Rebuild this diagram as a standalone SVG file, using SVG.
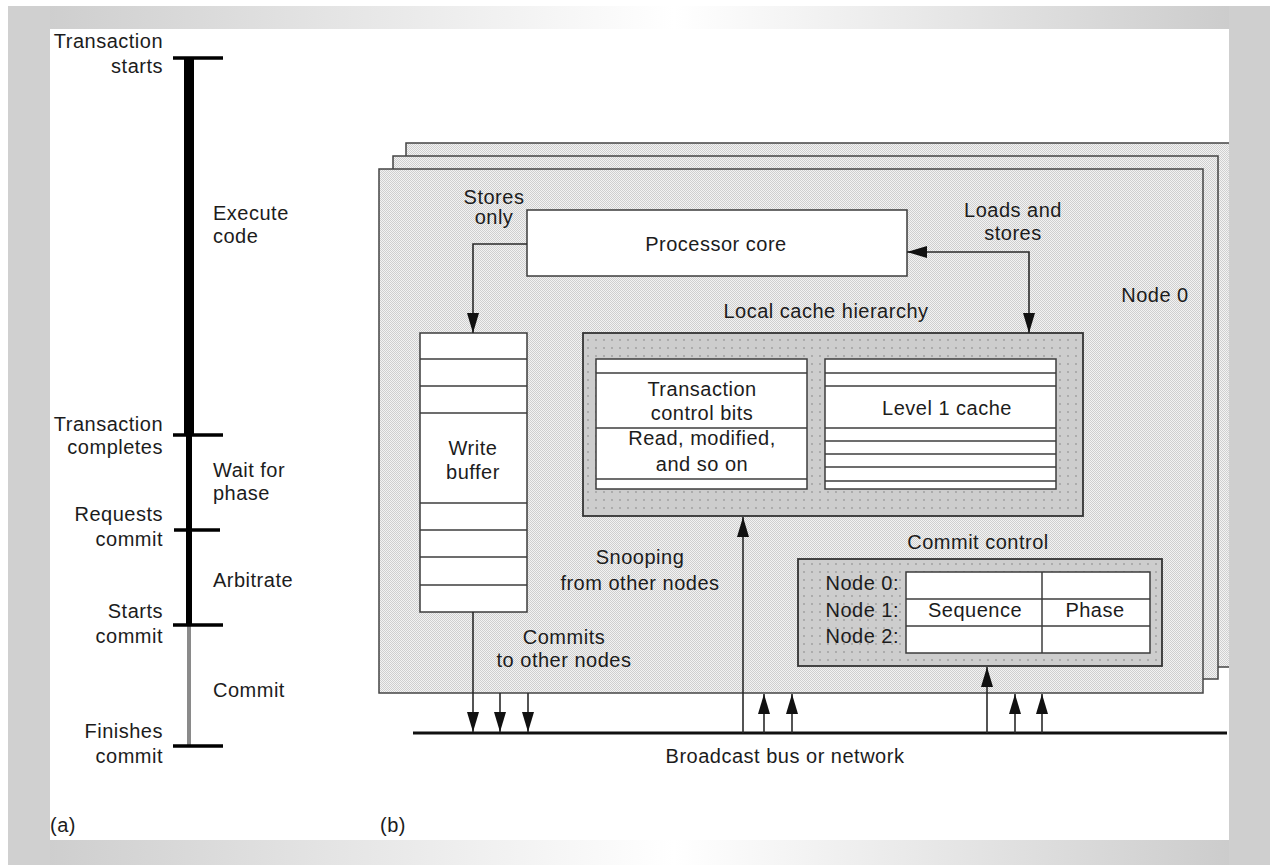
<svg xmlns="http://www.w3.org/2000/svg" width="1270" height="865" viewBox="0 0 1270 865">
<defs>
<style>
.t{font-family:"Liberation Sans",Arial,sans-serif;font-size:20px;letter-spacing:0.5px;fill:#1c1c1c}
.m{text-anchor:middle}
.e{text-anchor:end}
.box{stroke:#3c3c3c;stroke-width:1.5}
.node{fill:url(#dither);stroke:#444;stroke-width:1.5}
.gbox{fill:url(#dots);stroke:#333;stroke-width:1.8}
.wb{fill:#fff;stroke:#3c3c3c;stroke-width:1.5}
.row{stroke:#3c3c3c;stroke-width:1.5}
.conn{fill:none;stroke:#2a2a2a;stroke-width:1.6}
</style>
<pattern id="dither" width="2" height="2" patternUnits="userSpaceOnUse">
<rect width="2" height="2" fill="#f3f3f3"/>
<rect width="1" height="1" fill="#cfcfcf"/>
<rect x="1" y="1" width="1" height="1" fill="#cfcfcf"/>
</pattern>
<pattern id="dots" width="8" height="8" patternUnits="userSpaceOnUse">
<rect width="8" height="8" fill="#cdcdcd"/>
<circle cx="4" cy="4" r="0.9" fill="#9c9c9c"/>
</pattern>
<linearGradient id="band" x1="8" y1="0" x2="1264" y2="0" gradientUnits="userSpaceOnUse">
<stop offset="0" stop-color="#cbcbcb"/>
<stop offset="0.53" stop-color="#ffffff"/>
<stop offset="1" stop-color="#c9c9c9"/>
</linearGradient>
<marker id="arr" markerUnits="userSpaceOnUse" markerWidth="20" markerHeight="12" refX="20" refY="6" orient="auto-start-reverse" viewBox="0 0 20 12">
<path d="M0,0 L20,6 L0,12 Z" fill="#111"/>
</marker>
</defs>

<rect width="1270" height="865" fill="#ffffff"/>

<g id="nodes-stack">
<rect id="node-back" class="node" x="406" y="143" width="826" height="524"/>
<rect id="node-middle" class="node" x="393" y="156" width="825" height="523"/>
<rect id="node-front" class="node" x="379" y="169" width="824" height="524"/>
</g>

<g id="frame">
<rect x="8" y="6" width="1262" height="23" fill="url(#band)"/>
<rect x="8" y="840" width="1262" height="25" fill="url(#band)"/>
<rect x="8" y="6" width="42" height="859" fill="#d0d0d0"/>
<rect x="1229" y="6" width="41" height="859" fill="#cfcfcf"/>
</g>

<g id="timeline">
<line x1="189" y1="58" x2="189" y2="435" stroke="#000" stroke-width="10"/>
<line x1="189" y1="435" x2="189" y2="625" stroke="#000" stroke-width="6"/>
<line x1="189" y1="625" x2="189" y2="746" stroke="#8a8a8a" stroke-width="4"/>
<g stroke="#000" stroke-width="3.5">
<line x1="173" y1="58" x2="223" y2="58"/>
<line x1="173" y1="435" x2="223" y2="435"/>
<line x1="174" y1="530" x2="220" y2="530"/>
<line x1="173" y1="625" x2="223" y2="625"/>
<line x1="173" y1="746" x2="223" y2="746"/>
</g>
<text class="t e" x="163" y="48">Transaction</text>
<text class="t e" x="163" y="73">starts</text>
<text class="t" x="213" y="220">Execute</text>
<text class="t" x="213" y="243">code</text>
<text class="t e" x="163" y="431">Transaction</text>
<text class="t e" x="163" y="454">completes</text>
<text class="t" x="213" y="477">Wait for</text>
<text class="t" x="213" y="500">phase</text>
<text class="t e" x="163" y="521">Requests</text>
<text class="t e" x="163" y="546">commit</text>
<text class="t" x="213" y="587">Arbitrate</text>
<text class="t e" x="163" y="618">Starts</text>
<text class="t e" x="163" y="643">commit</text>
<text class="t" x="213" y="697">Commit</text>
<text class="t e" x="163" y="738">Finishes</text>
<text class="t e" x="163" y="763">commit</text>
<text class="t" x="50" y="832">(a)</text>
</g>

<g id="processor-core">
<rect class="box" x="527" y="210" width="380" height="66" fill="#fff"/>
<text class="t m" x="716" y="251">Processor core</text>
</g>

<g id="write-buffer">
<rect class="wb" x="420" y="333" width="107" height="279"/>
<g class="row">
<line x1="420" y1="359" x2="527" y2="359"/>
<line x1="420" y1="386" x2="527" y2="386"/>
<line x1="420" y1="413" x2="527" y2="413"/>
<line x1="420" y1="503" x2="527" y2="503"/>
<line x1="420" y1="530" x2="527" y2="530"/>
<line x1="420" y1="557" x2="527" y2="557"/>
<line x1="420" y1="585" x2="527" y2="585"/>
</g>
<text class="t m" x="473" y="455">Write</text>
<text class="t m" x="473" y="479">buffer</text>
</g>

<g id="cache-hierarchy">
<text class="t m" x="826" y="318">Local cache hierarchy</text>
<rect class="gbox" x="583" y="333" width="500" height="183"/>
<g id="tx-control">
<rect class="wb" x="596" y="359" width="211" height="130"/>
<g class="row">
<line x1="596" y1="373" x2="807" y2="373"/>
<line x1="596" y1="428" x2="807" y2="428"/>
<line x1="596" y1="479" x2="807" y2="479"/>
</g>
<text class="t m" x="702" y="396">Transaction</text>
<text class="t m" x="702" y="420">control bits</text>
<text class="t m" x="702" y="445">Read, modified,</text>
<text class="t m" x="702" y="471">and so on</text>
</g>
<g id="level1-cache">
<rect class="wb" x="825" y="359" width="231" height="130"/>
<g class="row">
<line x1="825" y1="373" x2="1056" y2="373"/>
<line x1="825" y1="386" x2="1056" y2="386"/>
<line x1="825" y1="428" x2="1056" y2="428"/>
<line x1="825" y1="441" x2="1056" y2="441"/>
<line x1="825" y1="454" x2="1056" y2="454"/>
<line x1="825" y1="467" x2="1056" y2="467"/>
<line x1="825" y1="481" x2="1056" y2="481"/>
</g>
<text class="t m" x="947" y="415">Level 1 cache</text>
</g>
</g>

<g id="commit-control">
<text class="t m" x="978" y="549">Commit control</text>
<rect class="gbox" x="798" y="559" width="364" height="107"/>
<rect class="wb" x="906" y="572" width="244" height="81"/>
<g class="row">
<line x1="906" y1="599" x2="1150" y2="599"/>
<line x1="906" y1="626" x2="1150" y2="626"/>
<line x1="1042" y1="572" x2="1042" y2="653"/>
</g>
<text class="t e" x="899" y="590">Node 0:</text>
<text class="t e" x="899" y="617">Node 1:</text>
<text class="t e" x="899" y="643">Node 2:</text>
<text class="t m" x="975" y="617">Sequence</text>
<text class="t m" x="1095" y="617">Phase</text>
</g>

<g id="bus">
<line x1="413" y1="733" x2="1227" y2="733" stroke="#111" stroke-width="3"/>
<text class="t m" x="785" y="763">Broadcast bus or network</text>
</g>

<g id="connectors">
<path class="conn" d="M527,244 H473 V333" marker-end="url(#arr)"/>
<path class="conn" d="M907,252 H1029 V333" marker-start="url(#arr)" marker-end="url(#arr)"/>
<path class="conn" d="M473,612 V732" marker-end="url(#arr)"/>
<path class="conn" d="M500,693 V732" marker-end="url(#arr)"/>
<path class="conn" d="M528,693 V732" marker-end="url(#arr)"/>
<path class="conn" d="M743,733 V517" marker-end="url(#arr)"/>
<path class="conn" d="M764,733 V694" marker-end="url(#arr)"/>
<path class="conn" d="M792,733 V694" marker-end="url(#arr)"/>
<path class="conn" d="M987,733 V667" marker-end="url(#arr)"/>
<path class="conn" d="M1015,733 V694" marker-end="url(#arr)"/>
<path class="conn" d="M1042,733 V694" marker-end="url(#arr)"/>
</g>

<g id="labels">
<text class="t m" x="494" y="204">Stores</text>
<text class="t m" x="494" y="224">only</text>
<text class="t m" x="1013" y="217">Loads and</text>
<text class="t m" x="1013" y="240">stores</text>
<text class="t m" x="1155" y="302">Node 0</text>
<text class="t m" x="640" y="564">Snooping</text>
<text class="t m" x="640" y="590">from other nodes</text>
<text class="t m" x="564" y="644">Commits</text>
<text class="t m" x="564" y="667">to other nodes</text>
<text class="t" x="380" y="832">(b)</text>
</g>
</svg>
